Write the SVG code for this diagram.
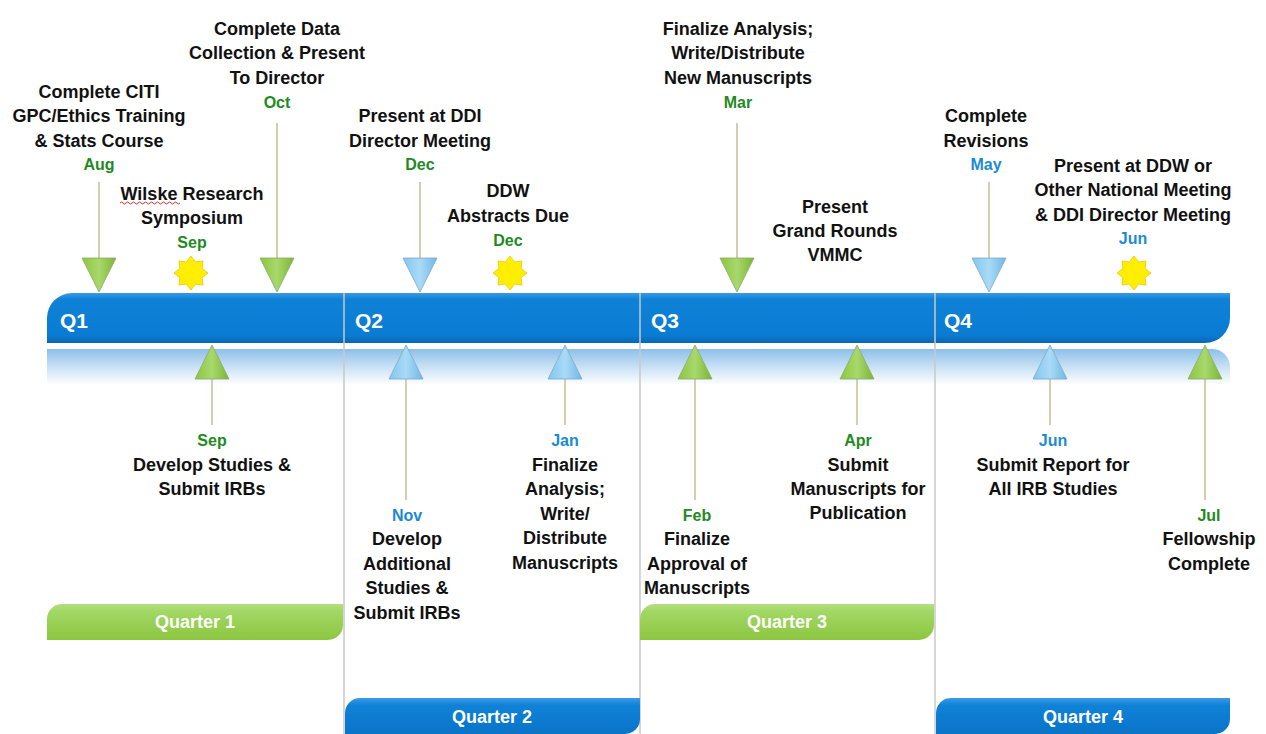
<svg xmlns="http://www.w3.org/2000/svg" width="1266" height="734" viewBox="0 0 1266 734">
<defs>
<linearGradient id="barG" x1="0" y1="0" x2="0" y2="1">
<stop offset="0" stop-color="#3a9ae6"/><stop offset="0.12" stop-color="#0f82d8"/><stop offset="0.85" stop-color="#0a7bd2"/><stop offset="1" stop-color="#0866b5"/>
</linearGradient>
<linearGradient id="reflG" x1="0" y1="0" x2="0" y2="1">
<stop offset="0" stop-color="#8dbfe8"/><stop offset="0.5" stop-color="#c9e1f5"/><stop offset="1" stop-color="#ffffff"/>
</linearGradient>
<linearGradient id="greenG" x1="0" y1="0" x2="0" y2="1">
<stop offset="0" stop-color="#b3df7e"/><stop offset="0.2" stop-color="#a2d865"/><stop offset="1" stop-color="#8cc640"/>
</linearGradient>
<linearGradient id="blueQG" x1="0" y1="0" x2="0" y2="1">
<stop offset="0" stop-color="#3a9ae6"/><stop offset="0.2" stop-color="#0f82d8"/><stop offset="1" stop-color="#0a74c8"/>
</linearGradient>
<linearGradient id="gTri" x1="0" y1="0" x2="1" y2="0">
<stop offset="0" stop-color="#8cc63f"/><stop offset="0.5" stop-color="#a8d86c"/><stop offset="1" stop-color="#7cb534"/>
</linearGradient>
<linearGradient id="bTri" x1="0" y1="0" x2="1" y2="0">
<stop offset="0" stop-color="#82c6ee"/><stop offset="0.5" stop-color="#a9daf6"/><stop offset="1" stop-color="#6fb8e6"/>
</linearGradient>
<polygon id="tDown" points="-17,-34 17,-34 0,0"/>
<polygon id="tUp" points="-17,34 17,34 0,0"/>
<polygon id="star" points="0,-17 4.59,-11.09 12.02,-12.02 11.09,-4.59 17,0 11.09,4.59 12.02,12.02 4.59,11.09 0,17 -4.59,11.09 -12.02,12.02 -11.09,4.59 -17,0 -11.09,-4.59 -12.02,-12.02 -4.59,-11.09"/>
</defs>
<style>
text{font-family:"Liberation Sans",Arial,sans-serif;font-weight:bold;text-anchor:middle}
.t{font-size:18px;fill:#111}
.mg{font-size:16px;fill:#1f8a1f}
.mb{font-size:16px;fill:#1b8ad6}
.q{font-size:21px;fill:#fff;text-anchor:start}
.ql{font-size:18px;fill:#fff}
.stem{stroke:#d8ccb0;stroke-width:2;fill:none}
.div{stroke:#c8c8c8;stroke-width:1.5}
.gt{fill:url(#gTri);stroke:#8aa86a;stroke-width:0.8}
.bt{fill:url(#bTri);stroke:#7aa8c8;stroke-width:0.8}
.st{fill:#ffee00;stroke:#e8c800;stroke-width:0.8}
</style>

<g id="timeline">
<path d="M47,385 L47,349 L1212,349 A18,18 0 0 1 1230,367 L1230,385 Z" fill="url(#reflG)"/>
<path d="M47,343 L47,318 A25,25 0 0 1 72,293 L1230,293 L1230,318 A25,25 0 0 1 1205,343 Z" fill="url(#barG)"/>
<line class="div" x1="344" y1="293" x2="344" y2="734"/>
<line class="div" x1="640" y1="293" x2="640" y2="734"/>
<line class="div" x1="935" y1="293" x2="935" y2="734"/>
<text class="q" x="60" y="328">Q1</text>
<text class="q" x="355" y="328">Q2</text>
<text class="q" x="651" y="328">Q3</text>
<text class="q" x="944" y="328">Q4</text>
</g>

<g id="connectors">
<line class="stem" x1="99" y1="182" x2="99" y2="258"/>
<line class="stem" x1="277" y1="123" x2="277" y2="258"/>
<line class="stem" x1="420" y1="182" x2="420" y2="258"/>
<line class="stem" x1="737" y1="123" x2="737" y2="258"/>
<line class="stem" x1="989" y1="182" x2="989" y2="258"/>
<line class="stem" x1="212" y1="379" x2="212" y2="425"/>
<line class="stem" x1="406" y1="379" x2="406" y2="500"/>
<line class="stem" x1="565" y1="379" x2="565" y2="425"/>
<line class="stem" x1="695" y1="379" x2="695" y2="500"/>
<line class="stem" x1="857" y1="379" x2="857" y2="425"/>
<line class="stem" x1="1050" y1="379" x2="1050" y2="425"/>
<line class="stem" x1="1205" y1="379" x2="1205" y2="500"/>
</g>

<g id="n-aug">
<use href="#tDown" class="gt" x="99" y="292"/>
<text class="t" x="99" y="98">Complete CITI</text>
<text class="t" x="99" y="122">GPC/Ethics Training</text>
<text class="t" x="99" y="147">&amp; Stats Course</text>
<text class="mg" x="99" y="170">Aug</text>
</g>
<g id="n-sep-top">
<use href="#star" class="st" x="191" y="273"/>
<text class="t" x="192" y="200">Wilske Research</text>
<text class="t" x="192" y="224">Symposium</text>
<text class="mg" x="192" y="248">Sep</text>
<path d="M120,203 q1.5,-2 3,0 t3,0 t3,0 t3,0 t3,0 t3,0 t3,0 t3,0 t3,0 t3,0 t3,0 t3,0 t3,0 t3,0 t3,0 t3,0 t3,0 t3,0 t3,0 t3,0" fill="none" stroke="#e03030" stroke-width="1"/>
</g>
<g id="n-oct">
<use href="#tDown" class="gt" x="277" y="292"/>
<text class="t" x="277" y="35">Complete Data</text>
<text class="t" x="277" y="59">Collection &amp; Present</text>
<text class="t" x="277" y="84">To Director</text>
<text class="mg" x="277" y="108">Oct</text>
</g>
<g id="n-dec1">
<use href="#tDown" class="bt" x="420" y="292"/>
<text class="t" x="420" y="122">Present at DDI</text>
<text class="t" x="420" y="147">Director Meeting</text>
<text class="mg" x="420" y="170">Dec</text>
</g>
<g id="n-dec2">
<use href="#star" class="st" x="510" y="273"/>
<text class="t" x="508" y="197">DDW</text>
<text class="t" x="508" y="222">Abstracts Due</text>
<text class="mg" x="508" y="246">Dec</text>
</g>
<g id="n-mar">
<use href="#tDown" class="gt" x="737" y="292"/>
<text class="t" x="738" y="35">Finalize Analysis;</text>
<text class="t" x="738" y="59">Write/Distribute</text>
<text class="t" x="738" y="84">New Manuscripts</text>
<text class="mg" x="738" y="108">Mar</text>
</g>
<g id="n-vmmc">
<text class="t" x="835" y="213">Present</text>
<text class="t" x="835" y="237">Grand Rounds</text>
<text class="t" x="835" y="261">VMMC</text>
</g>
<g id="n-may">
<use href="#tDown" class="bt" x="989" y="292"/>
<text class="t" x="986" y="122">Complete</text>
<text class="t" x="986" y="147">Revisions</text>
<text class="mb" x="986" y="170">May</text>
</g>
<g id="n-jun-top">
<use href="#star" class="st" x="1134" y="273"/>
<text class="t" x="1133" y="172">Present at DDW or</text>
<text class="t" x="1133" y="196">Other National Meeting</text>
<text class="t" x="1133" y="221">&amp; DDI Director Meeting</text>
<text class="mb" x="1133" y="244">Jun</text>
</g>

<g id="n-sep-bot">
<use href="#tUp" class="gt" x="212" y="345"/>
<text class="mg" x="212" y="446">Sep</text>
<text class="t" x="212" y="471">Develop Studies &amp;</text>
<text class="t" x="212" y="495">Submit IRBs</text>
</g>
<g id="n-nov">
<use href="#tUp" class="bt" x="406" y="345"/>
<text class="mb" x="407" y="521">Nov</text>
<text class="t" x="407" y="545">Develop</text>
<text class="t" x="407" y="570">Additional</text>
<text class="t" x="407" y="594">Studies &amp;</text>
<text class="t" x="407" y="619">Submit IRBs</text>
</g>
<g id="n-jan">
<use href="#tUp" class="bt" x="565" y="345"/>
<text class="mb" x="565" y="446">Jan</text>
<text class="t" x="565" y="471">Finalize</text>
<text class="t" x="565" y="495">Analysis;</text>
<text class="t" x="565" y="520">Write/</text>
<text class="t" x="565" y="544">Distribute</text>
<text class="t" x="565" y="569">Manuscripts</text>
</g>
<g id="n-feb">
<use href="#tUp" class="gt" x="695" y="345"/>
<text class="mg" x="697" y="521">Feb</text>
<text class="t" x="697" y="545">Finalize</text>
<text class="t" x="697" y="570">Approval of</text>
<text class="t" x="697" y="594">Manuscripts</text>
</g>
<g id="n-apr">
<use href="#tUp" class="gt" x="857" y="345"/>
<text class="mg" x="858" y="446">Apr</text>
<text class="t" x="858" y="471">Submit</text>
<text class="t" x="858" y="495">Manuscripts for</text>
<text class="t" x="858" y="519">Publication</text>
</g>
<g id="n-jun-bot">
<use href="#tUp" class="bt" x="1050" y="345"/>
<text class="mb" x="1053" y="446">Jun</text>
<text class="t" x="1053" y="471">Submit Report for</text>
<text class="t" x="1053" y="495">All IRB Studies</text>
</g>
<g id="n-jul">
<use href="#tUp" class="gt" x="1205" y="345"/>
<text class="mg" x="1209" y="521">Jul</text>
<text class="t" x="1209" y="545">Fellowship</text>
<text class="t" x="1209" y="570">Complete</text>
</g>

<g id="quarter1">
<path d="M47,640 L47,619 A15,15 0 0 1 62,604 L343,604 L343,625 A15,15 0 0 1 328,640 Z" fill="url(#greenG)"/>
<text class="ql" x="195" y="628">Quarter 1</text>
</g>
<g id="quarter2">
<path d="M345,734 L345,713 A15,15 0 0 1 360,698 L640,698 L640,719 A15,15 0 0 1 625,734 Z" fill="url(#blueQG)"/>
<text class="ql" x="492" y="723">Quarter 2</text>
</g>
<g id="quarter3">
<path d="M640,640 L640,619 A15,15 0 0 1 655,604 L934,604 L934,625 A15,15 0 0 1 919,640 Z" fill="url(#greenG)"/>
<text class="ql" x="787" y="628">Quarter 3</text>
</g>
<g id="quarter4">
<path d="M936,734 L936,713 A15,15 0 0 1 951,698 L1230,698 L1230,719 A15,15 0 0 1 1215,734 Z" fill="url(#blueQG)"/>
<text class="ql" x="1083" y="723">Quarter 4</text>
</g>
</svg>
